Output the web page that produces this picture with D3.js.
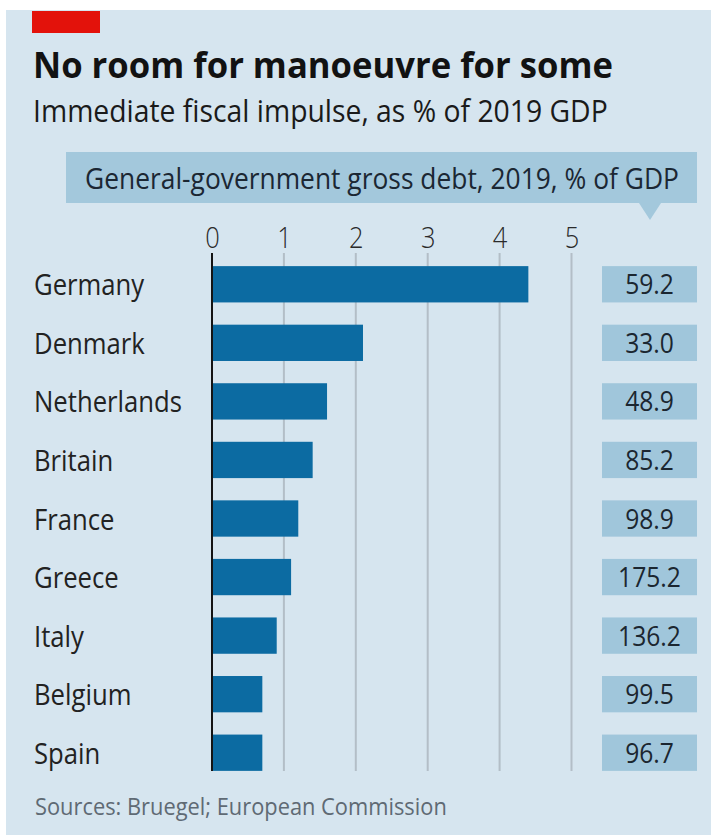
<!DOCTYPE html>
<html>
<head>
<meta charset="utf-8">
<script src="https://cdn.jsdelivr.net/npm/d3@7"></script>
<style>
  html, body { margin: 0; padding: 0; background: #ffffff; }
  svg { display: block; }
  text { font-family: "Open Sans", "Noto Sans", sans-serif; }
</style>
</head>
<body>
<svg id="chart" width="715" height="835"></svg>
<script>
// ---------- data ----------
const countries = ["Germany", "Denmark", "Netherlands", "Britain", "France", "Greece", "Italy", "Belgium", "Spain"];
const impulse = [4.4, 2.1, 1.6, 1.4, 1.2, 1.1, 0.9, 0.7, 0.7];
const debt = ["59.2", "33.0", "48.9", "85.2", "98.9", "175.2", "136.2", "99.5", "96.7"];
const ticks = [0, 1, 2, 3, 4, 5];
const title = "No room for manoeuvre for some";
const subtitle = "Immediate fiscal impulse, as % of 2019 GDP";
const debtHeader = "General-government gross debt, 2019, % of GDP";
const source = "Sources: Bruegel; European Commission";

// ---------- setup ----------
const svg = d3.select("#chart");

// condense a left-anchored text to a target width using a horizontal scale transform
function condense(parent, xPos, yPos, target, styleFn, str) {
  const g = parent.append("g");
  const t = g.append("text").attr("x", 0).attr("y", 0).text(str);
  styleFn(t);
  const w = t.node().getComputedTextLength();
  const k = w > 0 ? target / w : 1;
  g.attr("transform", `translate(${xPos},${yPos}) scale(${k},1)`);
  return t;
}
function squeeze(sel, k) {
  sel.each(function () {
    const w = this.getComputedTextLength();
    d3.select(this).attr("textLength", w * k).attr("lengthAdjust", "spacingAndGlyphs");
  });
  return sel;
}

// background panel
svg.append("rect").attr("x", 6).attr("y", 10).attr("width", 705).attr("height", 825).attr("fill", "#d6e5ef");
// red tag
svg.append("rect").attr("x", 32).attr("y", 11).attr("width", 68).attr("height", 22).attr("fill", "#e3120b");

// titles
condense(svg, 33, 78, 580, t => t.attr("font-size", 36).attr("font-weight", 700).attr("fill", "#121212"), title);
condense(svg, 33, 122, 575, t => t.attr("font-size", 30.5).attr("fill", "#1a1a1a"), subtitle);

// header box with pointer
svg.append("rect").attr("x", 66).attr("y", 152).attr("width", 631).attr("height", 51).attr("fill", "#a3c8dc");
svg.append("path").attr("d", "M639,203 L661,203 L650,220 Z").attr("fill", "#a3c8dc");
condense(svg, 85, 189, 594, t => t.attr("font-size", 29).attr("fill", "#1b2733"), debtHeader);

// scales
const x = d3.scaleLinear().domain([0, 5]).range([212, 571.5]);
const y = d3.scaleBand().domain(countries).range([255, 782]).paddingInner(0.38).paddingOuter(0.19);

const gridTop = 253, gridBottom = 771;

// gridlines
svg.append("g").selectAll("line").data(ticks.filter(t => t > 0)).join("line")
  .attr("x1", d => x(d)).attr("x2", d => x(d))
  .attr("y1", gridTop).attr("y2", gridBottom)
  .attr("stroke", "#b3bec7").attr("stroke-width", 2);

// tick labels (axis on top, domain hidden)
const axis = svg.append("g").attr("transform", `translate(0,${gridTop})`)
  .call(d3.axisTop(x).tickValues(ticks).tickSize(0).tickPadding(5).tickFormat(d3.format("d")));
axis.select(".domain").remove();
axis.selectAll("text").attr("font-size", 30).attr("font-weight", 300).attr("fill", "#2a2a2a")
  .attr("font-family", "\"Open Sans\", sans-serif").attr("dy", 0);
squeeze(axis.selectAll("text"), 0.85);

// bars
svg.append("g").selectAll("rect").data(countries).join("rect")
  .attr("x", x(0)).attr("y", d => y(d))
  .attr("width", (d, i) => x(impulse[i]) - x(0))
  .attr("height", y.bandwidth())
  .attr("fill", "#0c6ba2");

// zero line
svg.append("line").attr("x1", x(0)).attr("x2", x(0)).attr("y1", gridTop).attr("y2", gridBottom)
  .attr("stroke", "#141414").attr("stroke-width", 2);

// country labels
const labels = svg.append("g").selectAll("text").data(countries).join("text")
  .attr("x", 34).attr("y", d => y(d) + y.bandwidth() / 2 + 11)
  .attr("font-size", 30).attr("fill", "#222").text(d => d);
let maxW = 0;
labels.each(function () { maxW = Math.max(maxW, this.getComputedTextLength()); });
squeeze(labels, 148 / maxW);

// debt boxes
svg.append("g").selectAll("rect").data(countries).join("rect")
  .attr("x", 602).attr("y", d => y(d)).attr("width", 95).attr("height", y.bandwidth())
  .attr("fill", "#a0c6db");
const vals = svg.append("g").selectAll("text").data(countries).join("text")
  .attr("x", 649.5).attr("y", d => y(d) + y.bandwidth() / 2 + 10)
  .attr("text-anchor", "middle").attr("font-size", 28).attr("fill", "#1b2630")
  .text((d, i) => debt[i]);
squeeze(vals, 0.88);

// source
condense(svg, 35, 815, 412, t => t.attr("font-size", 24).attr("fill", "#5f6a74"), source);
</script>
</body>
</html>
